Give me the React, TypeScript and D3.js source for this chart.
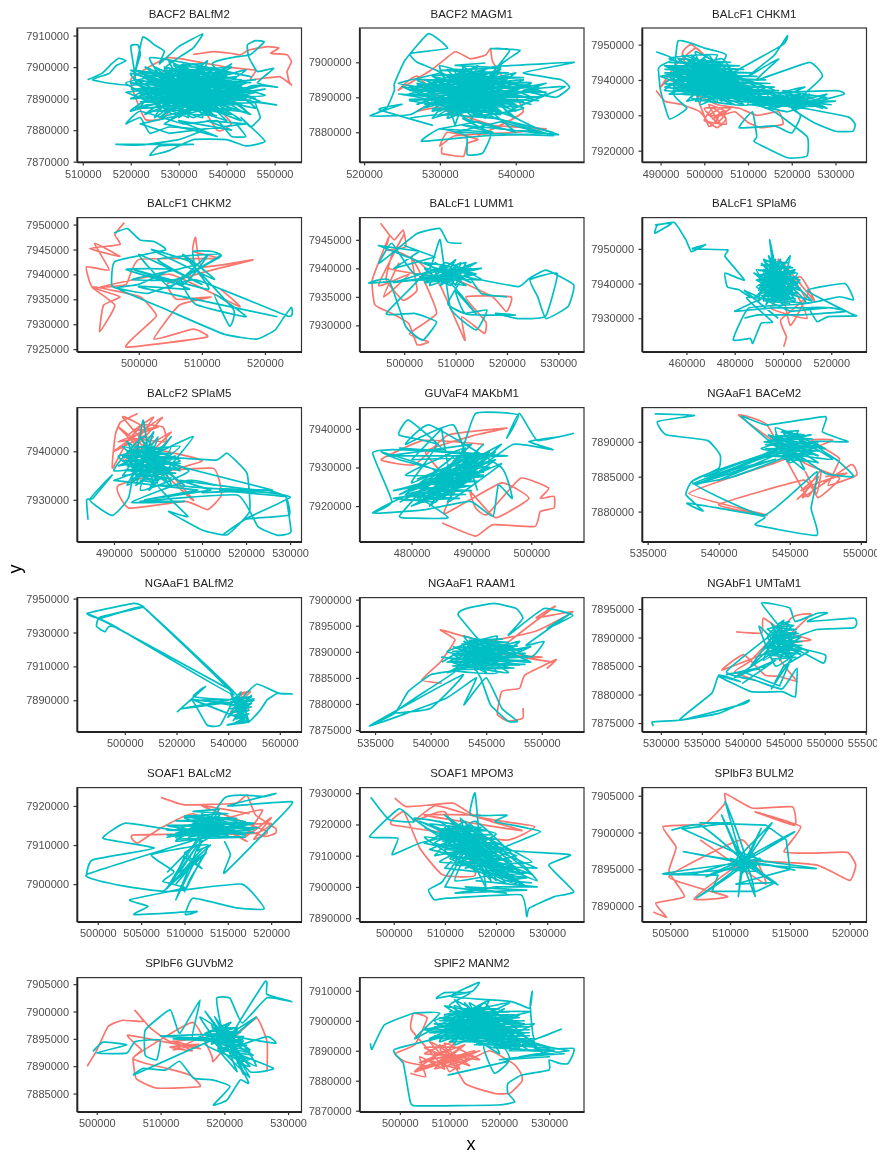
import React, { useEffect, useRef } from 'react';
import * as d3 from 'd3';

// tracks are flat x,y lists in km
const balfm2Red = [533,7904, 537.3,7904.9, 540.8,7904.4, 542.9,7903.9, 544.6,7905.4, 548.5,7906.5, 550.9,7906, 549.2,7904.4, 552.6,7903.9, 553.5,7901.7, 552.6,7898.6, 553,7895.4, 553.5,7894.3, 551,7897, 545,7896, 546,7899, 540,7900, 528,7903, 520,7896, 523,7883.5, 527,7884, 533,7895, 540,7884, 541,7882, 538,7880, 530,7899, 524,7897];
const balfm2Teal = [511,7896, 514,7898, 516,7901, 517.5,7902.8, 519,7902, 517,7900.5, 515.5,7898, 512,7896, 516,7894.8, 521,7894.5, 520,7906.5, 521.5,7907, 522,7904, 521,7899, 522.5,7909.5, 525,7907, 527,7905, 526,7901, 530,7906.5, 535,7910.5, 533,7906, 530,7903, 527,7899, 536,7888, 524,7893, 543,7896, 529,7885, 520,7898, 540,7889, 533,7901, 522,7887, 546,7892, 531,7895, 525,7884, 538,7899, 521,7891, 544,7886, 528,7902, 535,7884, 519,7895, 541,7900, 526,7889, 547,7889, 530,7897, 537,7885, 523,7900, 534,7892, 543,7883, 527,7892, 520,7886, 539,7895, 532,7887, 524,7903, 545,7897, 536,7899, 522,7894, 541,7885, 529,7889, 548,7891, 533,7896, 526,7886, 538,7892, 521,7899, 535,7890, 528,7883, 544,7899, 531,7893, 523,7885, 540,7897, 527,7895, 546,7887, 534,7899, 525,7891, 537,7894, 530,7886, 542,7892, 520,7890, 536,7896, 528,7899, 539,7886, 524,7896, 533,7884, 545,7894, 550.6,7893.6, 546.4,7895, 549.8,7899.6, 546.4,7898.6, 544.6,7903.3, 544.3,7907, 546,7908.4, 547.8,7908, 545,7904, 541,7903, 537,7901, 543,7890, 550.4,7888, 546,7889, 547,7884, 545,7881, 543,7884, 548,7876.5, 544,7875, 540,7877, 533,7877, 528,7873.5, 524,7872, 526,7875, 533,7875.5, 517,7875.5, 522,7875.3, 530,7877, 535,7880, 528,7881, 524,7879, 522,7884, 519,7882, 522,7886, 531,7882, 538,7883, 541,7878, 544,7878, 542,7882];
const balfm2Core = [520,7893, 541,7894, 526,7898, 537,7888, 522,7889, 544,7893, 529,7901, 534,7886, 521,7896, 546,7890, 531,7899, 527,7885, 540,7898, 523,7892, 543,7888, 525,7900, 538,7884, 520,7899, 535,7897, 530,7888, 548,7893, 524,7888, 536,7902, 532,7884, 519,7892, 542,7897, 528,7893, 545,7885, 533,7898, 522,7898, 539,7889, 526,7884, 541,7901, 530,7891, 521,7887, 544,7895, 534,7888, 527,7900, 537,7897, 524,7890, 547,7894, 529,7887, 536,7893, 520,7895, 540,7886, 531,7901, 525,7895, 543,7891, 533,7890, 528,7897, 538,7887, 522,7891, 535,7900, 530,7884, 542,7895, 526,7892, 546,7896, 532,7894, 523,7897, 539,7891, 529,7884, 537,7899, 527,7889, 544,7890, 534,7895, 521,7893, 541,7888, 530,7900, 536,7885, 525,7898, 533,7892, 540,7892, 528,7886, 535,7893, 531,7889, 538,7896, 526,7895, 543,7886, 532,7897, 529,7892, 537,7890, 534,7894, 530,7893, 536,7891, 527,7882, 533,7880, 538,7878, 530,7883, 541,7880, 536,7883, 544,7882, 528,7879, 522,7882, 534,7886, 540,7883, 533,7893];
const balfm2Dense = [524,7886, 541,7886.7, 527,7887.5, 543,7888.2, 523,7888.9, 545,7889.5, 525,7890.2, 544,7891, 522,7891.6, 546,7892.3, 524,7893, 543,7893.8, 521,7894.5, 545,7895.1, 526,7895.8, 542,7896.6, 523,7897.3, 540,7898, 527,7898.7, 538,7899.6, 529,7900.4, 535,7901.1, 530,7885.2, 538,7884.6];
const magm1Red = [530.3,7875.8, 530.3,7873.9, 533.1,7873.1, 533.6,7876.8, 535,7878, 531,7880, 530,7876, 532,7879, 540,7880, 544,7881, 537,7882, 530,7887, 527,7886, 529,7888, 532,7885, 527,7896, 524.5,7892, 529,7898, 532,7903, 534,7901, 536,7902, 536.7,7903.9, 537,7900, 541,7886, 535,7879];
const magm1Teal = [520.8,7884.7, 523,7887, 524,7892, 524,7893.9, 525.4,7900.6, 528.5,7908.2, 531,7904, 526.1,7902.5, 527,7900, 530,7897, 524.5,7894, 530,7892, 538,7888, 526,7891, 541,7895, 529,7886, 536,7898, 531,7887, 543,7893, 527,7895, 539,7885, 533,7899, 535,7886, 528,7889, 540,7892, 532,7896, 537,7884, 526,7893, 542,7890, 530,7899, 534,7885, 541,7887, 529,7894, 538,7897, 531,7890, 536,7886, 533,7892, 527,7888, 539,7896, 530,7885, 544,7891, 532,7898, 535,7889, 537,7893, 529,7891, 534,7897, 540,7886, 531,7895, 536,7890, 533,7887, 538,7899, 528,7893, 535,7894, 531,7884, 542,7894, 534,7888, 530,7895, 537,7891, 532,7889, 539,7893, 533,7895, 536,7888, 534,7892, 530,7889, 538,7894, 532,7891, 535,7896, 537,7887, 533,7893, 531,7892, 536,7895, 534,7890, 535,7892, 539.2,7903.4, 536.7,7903.9, 540.6,7903.4, 538,7899, 547.7,7900, 541,7897, 546,7895, 547.1,7892.8, 545.3,7890, 541,7892, 546.5,7893, 539,7886, 541,7883, 543,7881, 545.6,7879.3, 538,7881, 533,7884, 536.7,7879.6, 535.6,7874, 533.6,7873.6, 533.5,7879, 530,7881, 527.6,7877.4, 536,7879, 545,7879.8, 537,7884, 530,7885, 526,7884, 529,7882, 522,7886.5, 525,7888, 520.8,7884.7, 526,7885, 529,7889, 524.5,7891];
const magm1Core = [527,7892, 541,7890, 529,7896, 538,7885, 526,7889, 543,7892, 531,7898, 536,7884, 528,7891, 540,7897, 533,7886, 525,7893, 539,7889, 530,7894, 535,7899, 532,7885, 544,7894, 529,7888, 537,7896, 534,7883, 527,7894, 542,7888, 531,7893, 538,7898, 530,7886, 536,7893, 533,7897, 540,7884, 528,7895, 535,7887, 541,7893, 532,7892, 529,7884, 537,7889, 534,7898, 526,7892, 539,7891, 531,7886, 536,7897, 533,7890, 543,7889, 530,7897, 535,7885, 538,7892, 528,7887, 534,7895, 532,7882, 531,7889, 537,7895, 529,7893, 540,7888, 533,7889, 536,7892, 531,7896, 538,7886, 534,7893, 530,7890, 535,7897, 532,7887, 537,7892, 533,7894, 539,7887, 531,7891, 536,7894, 534,7887, 532,7893, 535,7890, 530,7892, 537,7894, 533,7891, 535,7888, 531,7894, 534,7896, 536,7889, 532,7895, 538,7890, 534,7891, 540,7880, 535,7883, 530,7881, 537,7880, 533,7882, 543,7880, 538,7883, 532,7880, 545,7879, 536,7885];
const magm1Dense = [531,7885.5, 538,7886, 529,7886.7, 540,7887.4, 528,7888, 541,7888.8, 526,7889.4, 543,7890.1, 525,7890.8, 544,7891.5, 526,7892.1, 543,7892.8, 527,7893.5, 542,7894.2, 528,7894.9, 541,7895.6, 529,7896.3, 539,7897, 530,7897.7, 538,7898.4, 532,7899.1, 536,7899.8];
const chkm1Red = [489,7937, 491,7934, 495,7933, 499,7931, 501,7928, 503,7926.5, 505,7929, 502,7932, 500,7928.5, 505,7927.5, 504,7932, 501,7930, 504,7930, 507,7931, 510,7928, 513,7926.5, 518,7927.5, 517,7931, 512,7930, 508,7932, 503,7933, 498,7936, 492,7940, 490,7938, 494,7945, 498,7949, 500,7947, 497,7950, 495,7947, 501,7927, 504,7931, 502,7929, 506,7932, 500,7932, 503,7928, 505,7931, 501,7933, 504,7927];
const chkm1Teal = [489,7948, 493,7946, 490,7944, 489.5,7943, 490,7937, 492,7929, 496,7932, 493,7936, 494,7951, 500,7949, 505,7947, 500,7937, 492,7944, 508,7934, 495,7947, 512,7938, 491,7939, 504,7946, 510,7933, 497,7935, 507,7942, 492,7941, 503,7934, 498,7948, 515,7935, 494,7938, 506,7936, 501,7947, 496,7940, 513,7933, 493,7943, 509,7940, 499,7933, 502,7944, 491,7937, 516,7937, 497,7945, 505,7939, 495,7936, 511,7936, 500,7943, 494,7941, 507,7933, 498,7938, 503,7947, 492,7946, 514,7938, 501,7935, 496,7943, 509,7937, 499,7941, 504,7936, 497,7938, 502,7941, 500,7939, 506,7944, 495,7942, 508,7938, 498,7943, 503,7938, 501,7942, 499,7937, 505,7941, 518,7950, 519,7952.5, 516,7947, 513,7944, 510,7941, 517,7946, 512,7940, 524,7945, 527,7941, 521,7934, 516,7932, 528,7936, 522,7932.5, 512,7936, 530,7937, 532,7936, 526,7934, 518,7933, 525,7931.5, 533,7929.5, 534.5,7927.5, 534,7925.5, 530,7925.5, 525,7928, 520,7932, 524,7934, 528,7932, 517,7936, 523,7938, 518,7935, 522,7930, 520,7925, 516,7927, 508,7926.5, 511,7931, 512,7924, 511.5,7922.5, 519,7918, 523.5,7918.5, 523.5,7924, 516,7931, 510,7934];
const chkm1Core = [492,7942, 505,7937, 494,7946, 508,7935, 491,7938, 503,7943, 496,7934, 511,7938, 493,7944, 506,7934, 498,7946, 513,7936, 495,7938, 504,7945, 490,7941, 509,7933, 500,7946, 497,7936, 507,7940, 493,7937, 503,7936, 499,7945, 515,7934, 494,7943, 505,7943, 492,7936, 510,7936, 497,7947, 502,7936, 495,7944, 512,7934, 498,7940, 506,7938, 491,7944, 504,7934, 501,7944, 496,7937, 508,7941, 494,7940, 500,7936, 503,7945, 498,7934, 505,7935, 493,7941, 510,7938, 496,7946, 502,7939, 499,7943, 507,7936, 495,7940, 501,7938, 497,7942, 504,7941, 500,7941, 516,7933, 522,7936, 512,7934, 526,7933, 518,7937, 528,7935, 514,7932, 524,7936, 520,7933, 530,7934, 517,7934, 525,7935, 513,7937, 527,7932, 519,7936, 523,7933, 515,7936, 521,7932, 510,7935, 529,7933, 516,7935, 522,7934, 511,7933, 519,7931, 525,7933, 514,7935];
const chkm1Dense = [494,7946, 506,7945, 492,7945, 508,7944, 491,7944, 509,7943, 491,7943, 511,7942, 491,7942, 512,7941, 491,7941, 514,7940, 492,7940, 515,7939, 492,7939, 516,7938, 493,7938, 517,7937, 495,7937, 516,7936, 498,7936, 518,7935, 502,7935, 520,7934, 506,7934, 523,7933, 510,7933, 525,7932.5];
const chkm2Red = [497.7,7950.4, 496.2,7948, 497,7946, 492.2,7945.2, 497,7943.6, 493,7946.2, 495.3,7940.9, 491.7,7941.5, 492.6,7937.5, 497,7935.5, 494.4,7933.8, 493.8,7928.5, 496.2,7933.8, 492.6,7937.5, 500.2,7935.5, 502.8,7931.8, 501.5,7930, 498,7925.4, 510.8,7927.4, 508.6,7929, 502.4,7927, 506.4,7933.8, 511.5,7935.5, 506,7935, 504.6,7938.2, 511.7,7940.9, 518.1,7942.9, 510,7941.5, 509,7947.4, 508.6,7944.6, 512.6,7943.2, 500,7943, 498,7938, 494,7937.5, 505,7940, 516,7933.5, 513,7937];
const chkm2Teal = [496.1,7948.3, 498.2,7949.2, 500.2,7946.9, 502.4,7946.6, 504.2,7944.9, 496.2,7942.6, 495.7,7937.9, 496.6,7937.2, 501.5,7936.2, 509,7938.9, 523.7,7931.6, 524.2,7933.4, 522.9,7931.2, 521.6,7928.8, 518.7,7927, 513.5,7928, 504.6,7932.8, 496.6,7937.2, 500,7938, 505,7941, 498,7941, 507,7938, 511,7944, 505,7937.5, 500,7944, 510,7938, 503,7943, 513,7944, 506,7939, 499,7939, 509,7942, 502,7945, 512,7939, 507,7944, 515,7933, 514.4,7929.6, 512,7936, 517,7931.5, 509,7934, 506.8,7938.9, 513,7943.6, 511.7,7944.6, 508.6,7944.6, 509,7941.2, 511,7937, 499.3,7940.9, 504,7939, 508,7937, 500,7937.5, 522,7931.5];
const lumm1Red = [495.4,7947.9, 497,7946, 498.1,7945, 499.8,7946.7, 500.3,7943.8, 496.5,7943.2, 497,7945.5, 493.8,7938, 494.3,7933.6, 497.6,7932.1, 500.9,7930.3, 502.5,7926.6, 504.7,7927.1, 501,7928.5, 506.3,7932.1, 504.1,7937.4, 501.4,7942, 502.5,7936.2, 499.8,7934.4, 496.5,7938, 498,7943, 503,7941, 507,7937, 511.8,7927.4, 511.2,7931.5, 515.6,7928.6, 515.9,7930.6, 512,7935, 520.8,7935, 519.9,7932.4, 517.2,7935, 510,7938, 497,7940, 500,7946, 495,7937, 501,7939, 496,7935, 499,7941];
const lumm1Teal = [511.2,7944.4, 508.5,7944.6, 506.9,7947, 502.5,7946.1, 497.6,7942.6, 495.1,7940.9, 497.6,7944.4, 502,7939, 510,7940, 504,7937.5, 514,7939, 506,7940, 512,7937, 503,7938.5, 515,7938, 508,7941, 505,7937, 513,7940, 507,7938, 511,7941, 509,7937, 504,7940, 512,7938.5, 522.1,7936.8, 524.3,7938.2, 527.6,7939.7, 533,7937.1, 531.9,7933.3, 527.6,7931.2, 526,7935, 524.5,7938, 529.8,7939.1, 527.5,7931.6, 522.1,7931.2, 517.8,7932.1, 521.6,7931.8, 512,7932, 510,7936, 514,7932, 508,7938, 493.2,7937.4, 497,7938, 500.3,7929.8, 503.6,7927.4, 506.3,7930.6, 502,7932.1, 496.5,7932.1, 505,7940, 507,7945, 509,7933, 514,7929.2, 516.1,7932.7, 511.8,7932.1, 508.5,7933.8, 512,7939, 515,7935.6, 520,7935];
const lumm1Core = [503,7939, 511,7938, 506,7941, 513,7937.5, 508,7939.5, 515,7940, 505,7938, 510,7941.5, 507,7937, 512,7940, 504,7941, 509,7938.5, 514,7941, 506,7938.5, 511,7939.5, 508,7937.5, 513,7939, 507,7940, 510,7937, 512,7941, 505,7939.5, 498,7937.5, 509,7939, 495,7944, 503,7943, 498,7940, 506,7942, 500,7944];
const splam6Red = [500.3,7921.8, 501.4,7924.7, 499,7929.5, 509,7936, 500,7945, 505,7938, 510,7930, 495,7933, 507,7942, 513,7935, 498,7947, 503,7928, 511,7938];
const splam6Teal = [447,7956.9, 454,7957.4, 447,7954.5, 448,7956.8, 455,7957.6, 459.8,7952.6, 462.1,7949.2, 467.9,7951.2, 462.5,7950, 477,7949.7, 476,7947.8, 484,7941, 476,7943, 477,7939, 481.8,7938.2, 488,7936, 503,7945, 490,7938, 497,7947, 492,7935, 505,7940, 489,7944, 500,7934, 494,7948, 502,7937, 491,7941, 506,7943, 496,7935, 493,7946, 504,7936, 490,7936, 499,7945, 507,7938, 492,7943, 498,7936, 503,7948, 495,7939, 501,7943, 489,7939, 505,7935, 497,7942, 494,7936, 500,7946, 492,7938, 502,7941, 496,7944, 499,7937, 494.5,7952.6, 497,7940, 501,7938, 493,7941, 498,7943, 495,7937, 500,7941, 509.5,7934.3, 486,7933, 479.4,7923.8, 486.4,7924.2, 487.5,7922.8, 491,7928.6, 495.6,7929, 485,7936, 509.5,7934.3, 523.4,7936.2, 529.2,7935.3, 525.7,7940, 510,7938, 528,7931.4, 530.4,7930.7, 518.8,7930.5, 514.2,7929, 511,7933, 520,7933, 526,7932, 508,7931, 490,7931, 484,7930];
const splam6Core = [491,7946, 503,7936, 489,7941, 505,7944, 493,7934, 499,7947, 490,7937, 506,7940, 494,7945, 502,7935, 488,7943, 504,7938, 496,7947, 500,7936, 492,7944, 507,7941, 495,7935, 498,7946, 491,7939, 503,7942, 497,7937, 494,7943, 501,7940, 493,7937, 505,7937, 496,7941, 499,7935, 492,7947, 502,7944, 490,7935, 498,7941, 495,7946, 500,7938, 494,7939, 497,7944, 503,7939, 496,7936, 499,7942, 493,7942, 501,7936, 497,7941, 495,7943, 500,7943, 512,7935, 498,7938, 480,7932, 496,7933, 518,7933, 503,7932, 484,7938, 498,7930];
const splam6Dense = [492,7946.5, 502,7946, 491,7945.3, 504,7944.6, 490,7943.8, 505,7943.2, 490,7942.5, 506,7941.8, 490,7941, 507,7940.3, 490,7939.5, 507,7938.8, 491,7938, 506,7937.3, 491,7936.5, 505,7935.7, 493,7935, 503,7934.3];
const splam5Red = [495.4,7947.8, 491.5,7946, 490.3,7943.4, 489.6,7936.5, 493,7942, 496.6,7945.4, 501.1,7945, 501.7,7942, 493,7943, 499,7947, 492,7938, 503,7944, 495,7936, 512.5,7936.5, 514.4,7931, 511.3,7928, 506.2,7929.7, 493.4,7928.3, 491,7933, 510,7938, 497,7941, 491,7945, 503,7934, 508,7930, 492,7947, 498,7944, 490,7940, 501,7947, 493,7939, 499,7943, 491,7942, 500,7945, 494,7944];
const splam5Teal = [484.1,7925.9, 483.8,7930, 485.2,7930.3, 489.6,7935.1, 484.5,7930, 489.6,7926.8, 493.4,7930.7, 496.6,7946.4, 498,7935, 491,7939, 505,7941, 493,7933, 500,7943, 496,7932, 507,7936, 492,7941, 503,7933, 497,7943, 490,7936, 505,7938, 495,7941, 500,7934, 494,7936, 503,7941, 498,7932, 508,7943, 496,7938, 499,7941, 493,7938, 501,7936, 497,7939, 513,7938.2, 515.7,7939.6, 520.2,7935.5, 520.8,7927.6, 515.7,7922.8, 510,7923.8, 502.4,7927.6, 506.8,7926.6, 500,7933, 513,7932.3, 524.6,7932, 529.1,7930.7, 514,7932, 525,7931.5, 530,7930.5, 520.2,7926.2, 515,7923, 520,7926, 529.8,7926.9, 529.1,7930.7, 530.2,7923.4, 527.2,7922.7, 522.7,7924.5, 518,7931, 496,7929.7, 506,7929.7, 494,7929.5, 507,7934, 513,7933];
const splam5Core = [494,7940, 503,7936, 492,7935, 499,7944, 495,7933, 504,7939, 491,7937, 501,7941, 497,7935, 493,7942, 506,7933, 498,7939, 494,7937, 502,7934, 496,7943, 500,7936, 492,7939, 505,7936, 497,7941, 499,7933, 495,7938, 502,7938, 494,7934, 498,7937, 503,7943, 496,7936, 490,7934, 509,7932, 497,7930, 512,7932, 505,7934, 522,7932, 510,7931.5, 526,7932, 500,7938, 495,7935];
const splam5Dense = [495,7941, 501,7940.5, 493,7940, 503,7939.5, 492,7939, 504,7938.5, 492,7938, 505,7937.5, 493,7937, 505,7936.5, 493,7936, 504,7935.5, 495,7935, 503,7934.5, 496,7934, 500,7933.5];
const makbm1Red = [485.1,7915.6, 490.7,7912.2, 493.6,7915.2, 500.6,7914.7, 501.5,7918.6, 503.8,7919.5, 503.8,7922.5, 501.5,7922, 502.9,7924.7, 498.2,7927.2, 492.6,7917.8, 490.7,7919.5, 489.8,7923.8, 494,7917, 499.6,7922, 495,7926, 485.5,7918, 487,7925, 482.3,7934.1, 490.7,7938.4, 495.9,7940.2, 486.1,7938.4, 480.5,7930.7, 474.9,7932, 482,7937, 492,7936];
const makbm1Teal = [473.5,7918.2, 476.7,7921.2, 473.5,7933.7, 476.7,7934.6, 485.1,7934.6, 479.5,7942.3, 477.9,7938.4, 484.2,7935.9, 480,7926, 490,7933, 478,7923, 488,7930, 482,7921, 494,7934, 484,7926, 492,7928, 479,7928, 489,7935, 483,7923, 495,7931, 486,7921, 491,7932, 481,7925, 487,7927, 477,7924, 490,7929, 484,7924, 493,7930, 486,7925, 488,7932, 490.7,7944, 497.8,7943.6, 495.9,7937.6, 498,7944, 501,7937, 507,7938.8, 504.8,7938, 499.6,7936.7, 503.6,7934.6, 497,7936, 489,7928, 478,7932, 475,7934, 484,7929, 478,7917.5, 480.5,7916.9, 486.1,7917, 480,7923, 473.5,7918.2, 482,7919, 489.8,7921.2, 493.6,7917.3, 494.5,7925.5, 496.8,7922, 495,7930, 483,7941, 479,7936, 487,7941, 491,7924];
const makbm1Core = [478,7921, 487,7929, 480,7924, 492,7931, 483,7920, 489,7932, 481,7927, 494,7932, 485,7922, 490,7927, 479,7923, 488,7934, 484,7923, 492,7936, 486,7927, 482,7922, 491,7929, 480,7920, 487,7924, 493,7934, 485,7928, 489,7925, 477,7922, 484,7921, 490,7931, 483,7926, 495,7936, 486,7923, 488,7928, 481,7922, 484,7925, 491,7934, 487,7926, 482,7924, 490,7936, 476,7933, 492,7933, 478,7935, 496,7933, 480,7932, 485,7940, 486,7931];
const makbm1Dense = [479,7921.5, 488,7922, 479,7922.5, 489,7923, 480,7923.5, 490,7924, 481,7924.6, 490,7925.2, 482,7925.8, 491,7926.4, 483,7927, 492,7927.6, 484,7928.2, 492,7928.8, 485,7929.4, 493,7930, 486,7930.6, 493,7931.2, 487,7931.8, 493,7932.6];
const bacem2Red = [545.5,7881.7, 546.5,7883.8, 546.1,7885.7, 546.9,7882.6, 547.2,7886, 545.9,7882, 549.3,7886.7, 549.7,7885.2, 547.7,7883.8, 548.5,7887.6, 546.5,7890.2, 548,7890.2, 544,7887, 537.9,7882.6, 543.4,7879.5, 540,7881, 546,7884.5, 547,7882, 548.5,7884.8, 546,7887, 541.4,7893.8, 543.4,7892.4, 546.2,7882.2, 547,7885, 545.8,7883, 546.8,7884, 549,7885.5, 547.5,7885];
const bacem2Teal = [535.5,7894, 538.3,7893.8, 535.7,7892.9, 536.3,7891, 539.2,7890.2, 540.1,7888.1, 540,7886.2, 538.1,7884.3, 537.7,7882.4, 538.9,7880.1, 537.8,7881.2, 543.2,7879.3, 542.6,7878.1, 546.9,7876.6, 546.5,7880.5, 546.9,7885.7, 543.2,7879.5, 538.1,7884.3, 543,7888, 538.4,7883.8, 544,7888.5, 538.2,7884, 541,7885, 545,7888.2, 543.5,7891, 547,7888, 544,7890, 546.5,7891, 543,7889, 548,7887.5, 544.5,7891.5, 546,7888, 543.8,7888, 547,7890, 545,7887, 544,7892, 547.5,7889, 545,7890, 546,7886, 541.6,7893.6, 543.4,7892.4, 547.5,7893.6, 547.3,7891.4, 549.1,7890, 546.5,7890, 548.5,7887.1, 549.5,7885, 547.5,7885.5, 545,7889];
const bacem2Core = [543.5,7889, 546.5,7888.5, 544,7891, 547,7887, 544.5,7888, 546,7890.5, 543.2,7890, 546.8,7889, 545,7891.5, 545.5,7887.5, 544,7889.5, 547,7889.5, 544.8,7887.2, 545.8,7889.3, 543.8,7890.8, 546.2,7887.2, 545,7888.8, 542,7887, 545.5,7890, 539,7885, 544,7887.5, 538.5,7884, 543,7887, 540,7884.5, 545,7889];
const bacem2Dense = [543.6,7888, 546.6,7888.2, 543.4,7888.5, 547,7888.7, 543.3,7889, 547,7889.2, 543.3,7889.6, 546.8,7889.8, 543.5,7890.2, 546.6,7890.4, 544,7890.8, 546,7891, 544.4,7891.4, 545.6,7891.6, 544.6,7887.5, 546.4,7887.2];
const balfm2bRed = [544.8,7894, 548.6,7895, 540.9,7883, 548,7884.3, 545,7893, 547,7894];
const balfm2bTeal = [507.2,7945.3, 503.4,7947.2, 485.5,7941.3, 490.4,7938.4, 503.4,7944.3, 507.2,7945, 490.4,7939, 489.1,7933.5, 492.4,7930.5, 496.2,7933.1, 540.9,7896.1, 495.6,7933.8, 485.7,7941, 496.2,7933.6, 542.2,7893.1, 507.2,7945, 544,7892, 526.6,7892.2, 531.2,7898.1, 520.4,7883.3, 526,7890, 531.8,7875.4, 537,7875.4, 543,7892, 546,7878, 541,7894, 548,7877, 545,7890, 540,7880, 549,7893, 542,7878, 547,7888, 543,7885, 545,7895, 541,7887, 550,7891, 544,7880, 546,7892, 551.2,7899.6, 559.6,7894.1, 564.8,7893.7, 559,7894, 555.1,7890.2, 552.5,7884.3, 548,7877.4, 539.6,7875.4, 545,7878, 544,7889, 522,7885, 540,7890, 530,7890, 547,7886, 545,7891];
const balfm2bDense = [541,7891, 549,7892, 541,7889, 550,7890, 541,7887, 549,7888, 541,7885, 549,7886, 542,7883, 548,7884, 542,7881, 548,7882, 543,7879, 547,7880, 543,7877, 547,7878, 526,7890.5, 541,7888];
const raam1Red = [548.3,7879.2, 548.3,7877.3, 547,7876.7, 546,7878, 546.4,7882.4, 548,7883, 548.5,7885.6, 551.3,7888.5, 550.5,7886.9, 551,7888, 548.6,7888.8, 550,7889, 546,7890, 551.2,7898.7, 549.5,7896.5, 552.8,7897.7, 549.5,7894, 545,7892, 540.9,7894.2, 542.2,7892.3, 540.9,7888.1, 539.2,7884.6, 541,7884];
const raam1Teal = [534.5,7875.8, 536.8,7878.3, 538,7882.4, 540,7885.6, 542.2,7886.2, 538.5,7881, 536.8,7878.3, 540,7879.2, 542.9,7885.6, 534.5,7875.8, 541.3,7881, 544.1,7885, 543,7879.8, 545,7885, 546.4,7879.2, 547.8,7876.7, 547,7876.7, 545.4,7879.8, 544.5,7885, 543,7891, 547,7886, 542,7888, 548,7892, 544,7886.5, 546,7893, 541.5,7890, 549,7888, 543,7893, 546,7886, 542,7886.5, 548,7890, 544,7892.5, 545,7887, 543,7889, 547,7891, 545,7889, 544,7890.5, 546,7888, 542.5,7897, 543.2,7898.3, 545.7,7899.3, 547.7,7898.3, 548.3,7896.4, 547,7893.2, 550.2,7898.3, 552.8,7897, 550.5,7894.5, 552.6,7897.4, 548.6,7891.3, 550.2,7892, 549,7889, 544.5,7892, 541,7888];
const raam1Core = [542,7891, 547,7887, 543,7887, 546,7892, 541.5,7888, 548,7889, 543.5,7892, 545,7886, 542,7889.5, 547.5,7891, 544,7887.5, 546.5,7889, 543,7890.5, 545.5,7892, 542.5,7887.5, 548,7887.5, 544.5,7889, 546,7890.5, 543.5,7888.5, 545,7891, 544,7890, 546,7887.5, 541,7889, 545,7888, 543,7892, 547,7888.5, 544.5,7891.5, 545.5,7889.5, 543.8,7889, 549,7891, 547,7889, 541.5,7886, 545,7890];
const raam1Dense = [542.5,7886.6, 547.5,7886.9, 542,7887.3, 548.5,7887.6, 541.8,7888, 548.7,7888.3, 541.8,7888.7, 548.7,7889, 542,7889.4, 548.5,7889.7, 542,7890.1, 548.2,7890.4, 542.3,7890.8, 547.8,7891.1, 542.8,7891.5, 547,7891.8, 543.5,7892.2, 546.5,7892.5];
const umtam1Red = [539.2,7891, 542.3,7890.8, 542.5,7893.4, 545,7891, 548.3,7889.6, 546,7889, 537.5,7884.3, 540.1,7887, 542.7,7883.4, 544.4,7883.2, 546.6,7882.3, 545.3,7884.6, 544,7888, 548.3,7894, 546,7893.5, 541,7886, 539,7884, 541.5,7882.5];
const umtam1Teal = [529.1,7874.5, 529,7875.2, 532.3,7875.5, 537.1,7876.7, 540.7,7879, 540.2,7878.4, 532.3,7875.5, 536.2,7880.2, 537.1,7883.4, 539.7,7882.3, 537.1,7883.2, 541,7880.5, 544.8,7880.5, 546.4,7879.6, 546.6,7884.6, 544.8,7881, 541.5,7882.5, 538,7884, 544,7891, 541,7885, 546,7892, 542,7887, 547,7888, 544,7885, 542,7892, 546,7886, 543,7890, 545,7893, 542.5,7886, 547,7890, 544,7887, 545,7891, 543.5,7888, 546,7889, 542.3,7896, 545.7,7895.2, 546.4,7892.8, 549.2,7894.3, 550.3,7894.3, 547.9,7892.8, 553.5,7893.4, 553.9,7892.5, 553.5,7891.7, 549,7891.4, 545,7889, 550,7887, 549.8,7885.5, 547,7887.6, 545,7888];
const umtam1Core = [544,7892, 546,7886.5, 543,7888.5, 546.5,7891, 544.5,7886, 545.5,7892.5, 543,7891.5, 547,7887, 544,7889.5, 546,7890.5, 544.8,7887.5, 543.5,7892.5, 545.5,7887, 544.5,7891, 545,7889.5, 546.2,7888, 543.8,7890, 545.3,7891.5, 544.3,7888, 539,7883, 544,7886, 540,7882, 543,7885, 538,7883.5, 542,7884.5, 540,7884, 544.5,7881.5, 545.8,7886, 543.5,7881, 545,7885, 548,7887.5, 546,7889];
const umtam1Dense = [543.5,7886.2, 546.5,7886.5, 543.3,7886.9, 547,7887.2, 543.1,7887.6, 547.2,7887.9, 543,7888.3, 547.2,7888.6, 543.2,7889, 547.2,7889.3, 543.4,7889.7, 547,7890, 543.6,7890.4, 546.8,7890.7, 543.8,7891.1, 546.5,7891.4, 544,7891.8, 546.2,7892.1, 544.4,7892.5, 545.8,7892.8];
const balcm2Red = [507.3,7922.2, 510,7920.3, 515.9,7920.7, 517.2,7922.8, 518.2,7917.7, 520.5,7914.3, 520.5,7913, 519.2,7912.2, 516,7915, 520,7915.5, 518,7913, 504.2,7912.6, 504.6,7910.5, 507,7914, 511,7918, 517.2,7910.9, 514,7916, 519,7919, 517,7912, 520,7917, 518,7911.5, 519.5,7913.5, 512,7920, 517.5,7918];
const balcm2Teal = [498.7,7902.4, 499.4,7906.2, 506.5,7909.2, 500.6,7911.7, 503.2,7915.6, 508.8,7913.9, 513,7917, 509,7912, 516,7916, 511,7913, 518,7914, 508,7915, 515,7912.5, 510,7917, 517,7916, 512,7912, 514,7917.5, 509,7911, 516,7913.5, 511,7915.5, 513.5,7913, 498.7,7902.4, 503.2,7899.4, 508.1,7898.1, 516.6,7900, 519.2,7893.7, 516,7893.9, 511,7896.4, 510.1,7892.2, 511.4,7893, 504.2,7892.2, 505.8,7894.3, 503.7,7896, 510,7899, 507.5,7900.7, 508.8,7903.2, 506.2,7907.5, 512.7,7910, 510.7,7901.5, 510,7898.1, 512,7907, 509.5,7903, 511.5,7910, 508,7899, 514.6,7922, 519.2,7922.4, 520.5,7923.2, 515,7920, 522.4,7921.1, 520.5,7916, 514.6,7902.8, 515.3,7907.5, 514.6,7911];
const balcm2Core = [510,7915, 516,7913, 511,7917, 517,7914.5, 509,7913, 515,7917, 512,7914, 518,7915.5, 510.5,7912, 514,7915.5, 508,7912, 516,7915, 512,7918, 513,7912, 511,7914.5, 517,7912.5, 513,7916, 510,7913.5, 515,7914, 512,7915.5, 514,7913.5, 510,7908, 512,7904, 510,7907, 508.5,7900, 512,7909, 509,7901, 511.5,7906, 507.5,7898, 511,7905, 509,7896, 512,7912, 508,7903];
const balcm2Dense = [509,7911.5, 517,7912, 508,7912.6, 518,7913.2, 508,7913.8, 518.5,7914.4, 508.5,7915, 518,7915.6, 509,7916.2, 516,7916.8, 510,7917.4, 515,7918, 511,7918.6, 514,7919.2, 512,7911, 511.5,7908.5, 513,7910, 510.5,7905, 512.5,7908, 509.5,7902, 511.5,7906.5, 509,7900];
const mpom3Red = [500.2,7928.4, 502.4,7925.7, 507.3,7926.3, 511.7,7926.8, 516.1,7922.5, 521.6,7920.9, 527.6,7919.3, 522,7915, 499.7,7919.9, 502,7924, 505.1,7912.4, 509.5,7903.9, 516,7904, 510,7924, 504,7921, 508,7926, 513,7924, 519,7921, 525,7918, 506,7923, 517,7923];
const mpom3Teal = [495.5,7928.7, 499.1,7921.5, 504,7920.9, 501,7925, 495.3,7916.1, 500.8,7915.6, 499.7,7910.3, 505,7914, 515,7918, 507,7920, 520,7908, 510,7923, 525,7904, 513,7912, 504,7922, 520,7917, 509,7908, 527,7908, 512,7920, 518,7904, 506,7916, 522,7912, 511,7915, 528,7902, 516,7921, 510,7911, 524,7901, 514,7917, 508,7914, 519,7911, 513,7922, 517,7908, 515.9,7930, 515,7923, 522.1,7923, 519.9,7920.9, 528.7,7917.7, 521,7912, 534.5,7910.3, 530.3,7907, 535.2,7898.5, 531.4,7896.9, 526.5,7893.2, 526,7890.5, 524.8,7897.5, 510.6,7896.4, 507.9,7895.9, 506.8,7899.1, 509.5,7901.7, 514,7912, 518,7900, 516,7915, 512,7902, 524,7906, 515,7913, 520,7902, 517,7914];
const mpom3Core = [506,7919, 519,7910, 509,7921, 522,7906, 507,7912, 517,7919, 510,7906, 526,7903, 513,7919, 508,7910, 521,7914, 512,7907, 528,7906, 511,7918, 519,7902, 514,7921, 506,7914, 523,7908, 516,7917, 510,7914, 525,7901, 513,7908, 518,7916, 509,7917, 520,7905, 512,7913, 527,7904, 515,7920, 511,7909, 522,7901, 517,7911, 508,7919, 524,7910, 514,7906, 519,7913, 505,7921, 512,7916, 526,7900, 516,7908, 510,7919, 521,7903, 514,7914, 518,7906, 513,7917, 523,7903, 515,7911, 511,7912, 520,7911, 514,7909, 516,7913, 512,7911, 518,7912, 515,7915, 510,7900, 522,7898, 514,7900, 526,7899, 512,7898, 520,7900, 528,7900, 516,7902];
const mpom3Dense = [510,7919.5, 517,7919, 509,7918.5, 518,7918, 509,7917.3, 519,7916.7, 509,7916, 520,7915.3, 509.5,7914.7, 520,7914, 510,7913.3, 521,7912.7, 510,7912, 521,7911.3, 511,7910.7, 521,7910, 512,7909.3, 522,7908.7, 514,7908, 522,7907.3, 516,7906.7, 524,7906, 518,7905.2, 526,7904.5, 520,7903.7, 526,7903, 522,7902, 527,7901.3];
const bulm2Red = [503.6,7889.2, 504.7,7888.5, 503.8,7890.4, 506.2,7891.3, 504.9,7894.7, 505.5,7898, 504.4,7900.8, 507.9,7901.2, 509.6,7904, 509.6,7905.3, 511.9,7903.3, 515.2,7903.5, 515.4,7901, 512.1,7902.8, 515.9,7900.8, 514.5,7897.4, 516.8,7897.2, 519.8,7897.3, 520.5,7895.6, 520,7893.5, 517.2,7895.6, 511.2,7896, 507,7891, 509.8,7891.3, 504.9,7894, 511,7899, 513,7893, 507.5,7899];
const bulm2Teal = [505.1,7900.3, 507.5,7901, 511,7896, 507.2,7891.1, 511.3,7896, 509.6,7904.2, 511,7896.2, 512.1,7891.3, 511.2,7895.8, 504.4,7894.4, 507,7894.4, 511.4,7896.3, 517.2,7895.1, 511,7896, 515.4,7900.1, 511.2,7896.2, 506.1,7897.4, 511.5,7895.7, 514,7892.9, 511,7896.1, 515.4,7894.9, 511.3,7896, 510.7,7891.3, 510.9,7895.9, 509.3,7902.4, 511.2,7896, 512.6,7900.6, 511.1,7896, 508,7894, 512,7897, 510,7895, 512.5,7894.8, 510.5,7897.5, 513,7896];
const bulm2Core = [510,7896.5, 512.2,7895.5, 510.5,7894.8, 511.8,7897.2, 510.2,7895.5, 512.5,7896.5, 511,7894.5, 510.8,7897.5, 512,7895, 510.3,7896, 513.5,7901.3, 511.5,7896.5, 506,7900.5, 510,7901.3, 507.5,7901.3, 513,7901, 514.7,7899, 515,7895, 510.5,7893, 513.8,7893.2, 512.2,7892, 508.5,7892, 509,7894.2, 505,7894.3, 511.5,7895.2];
const guvbm2Red = [498.5,7890, 499.9,7892.7, 501.8,7897.3, 504.1,7898.4, 507.3,7898.2, 506,7900.2, 508.4,7897, 511.5,7894.5, 516,7895.1, 512,7893, 516,7894, 511.5,7893.5, 515,7892.8, 512,7894.6, 516.2,7893.2, 504.9,7895.7, 507,7893, 505.7,7891.5, 506.2,7887.7, 509.4,7886, 516.2,7886.3, 514.6,7888.4, 511,7889.6, 505.7,7891.5, 515,7898, 518,7892, 518.3,7890.9, 521.4,7895.1, 525.1,7898.8, 526.7,7894.5, 526.7,7889];
const guvbm2Teal = [499.4,7892.7, 501,7894.4, 504.7,7893.9, 499.9,7892.4, 504.7,7892.4, 506,7894.5, 509.9,7894.8, 509.4,7891.2, 507.6,7892, 507.6,7896.6, 511.5,7900.3, 513,7896, 516.2,7902.1, 515,7895, 521,7898, 517,7894, 523,7891, 519,7897, 524,7888, 518,7895, 522,7897, 520,7893, 516.2,7899, 524,7893, 519,7894, 525,7890, 521,7896, 506,7888.5, 507.3,7889.6, 510.8,7889.3, 513,7890.9, 515.2,7887.8, 518.1,7887.5, 520.9,7886.3, 518.3,7882.9, 520.4,7883.8, 522.5,7887.5, 523.8,7887, 521,7895, 526.2,7905.2, 526.7,7905.2, 526.7,7903.1, 530.6,7901.8, 526.7,7902.5, 522.8,7897.9, 520.9,7902.4, 518.8,7902.4, 520,7896, 528,7894.2, 526.7,7895.4, 521,7893, 527.7,7889.6, 524,7889, 520,7895];
const guvbm2Core = [516,7895, 522,7896.5, 518,7894, 521,7898, 517,7896, 523,7894, 519,7896.5, 520.5,7893.5, 518,7897.5, 522,7892, 519.5,7895.5, 524,7890, 520,7896, 523,7888.5, 521,7894.5, 524.5,7892, 519,7893, 522,7889, 520,7895, 517,7900, 520,7895.5, 518.5,7899, 521,7895, 525,7899, 521,7896, 510,7895.5, 518,7895, 512,7895, 520,7894.5, 523,7895];
const guvbm2Dense = [518,7897, 522,7897, 517.5,7896.4, 522.5,7896.2, 517,7895.7, 523,7895.4, 517.5,7895, 523,7894.6, 518,7894.3, 523.5,7893.8, 519,7893.3, 524,7892.6, 521,7892, 524,7891.3, 522,7890.6, 524,7889.9];
const manm2Red = [502.1,7882.5, 505.2,7881.4, 504,7888, 509,7884, 502.3,7897, 502.8,7902.5, 505.5,7900.9, 503,7892, 499,7889, 501,7886.4, 506,7885, 512,7891, 505,7891, 514,7885, 508,7892, 510,7883, 515,7890, 503.5,7884, 512,7887, 507,7889, 516,7887, 509,7892.5, 513.1,7879.1, 519,7875.8, 522.1,7875.8, 524.5,7879.7, 524.5,7881.9, 523.1,7885.3, 518,7890, 511,7885, 506,7893, 510,7889, 504,7886, 513,7892, 507,7884, 515,7888, 505,7889, 511,7893, 508,7886, 514,7889, 506,7887, 512,7884, 509,7890, 503,7883, 516,7890, 510,7886];
const manm2Teal = [494.1,7892.5, 494.4,7890.5, 496.9,7898.6, 502.8,7902.5, 508,7902.5, 503,7894, 513,7903, 508,7893, 520,7901, 505,7897, 524,7895, 511,7905, 516,7892, 527,7899, 510,7896, 522,7906, 507,7900, 519,7891, 514,7906, 525,7892, 509,7898, 518,7904, 528,7890, 512,7894, 521,7898, 515,7900, 506,7894, 524,7902, 511,7892, 517,7906, 522,7893, 513,7898, 526,7903, 509,7902, 520,7889, 516,7897, 499,7890.5, 500.7,7885.8, 502.1,7873, 503.4,7871.6, 519.7,7871.9, 523.1,7873, 521.7,7875.8, 521.7,7879.1, 524.5,7881.9, 530,7883.6, 530,7886.9, 532.1,7885.8, 533.8,7885.8, 534.8,7890.8, 522,7890, 532.4,7897.2, 527,7894, 526.2,7905.3, 526.6,7909.8, 526.1,7904.2, 522.4,7906.4, 510.3,7908.1, 515.9,7912.8, 514.5,7909.8, 507.4,7907.5, 509,7909.4, 514.1,7909.2, 510,7905, 518,7898, 522,7887, 509.7,7881.9, 521.7,7886.4, 519,7882.5, 517,7892, 530,7891, 522,7895];
const manm2Core = [506,7897, 518,7901, 509,7894, 523,7900, 511,7903, 515,7894, 507,7899, 520,7895, 513,7906, 517,7896, 508,7901, 525,7896, 512,7897, 521,7904, 510,7893, 519,7899, 514,7902, 524,7891, 516,7905, 509,7896, 522,7897, 512,7900, 518,7893, 511,7907, 527,7893, 513,7895, 520,7903, 507,7896, 516,7899, 523,7894, 510,7900, 518,7907, 514,7893, 525,7899, 512,7903, 520,7892, 515,7898, 509,7905, 522,7901, 513,7899, 517,7902, 511,7895, 519,7896, 514,7900, 516,7894, 512,7898, 521,7900, 515,7903, 526,7890, 531,7890, 524,7888, 533,7889, 527,7891, 530,7888, 520,7887, 534,7890, 524,7893, 518,7895];
const manm2Dense = [512,7904, 520,7904, 510,7903, 522,7903, 509,7902, 523,7902, 508,7901, 524,7901, 508,7900, 525,7900, 507,7899, 525,7899, 507,7898, 526,7898, 506,7897, 526,7897, 506,7896, 526,7896, 507,7895, 526,7895, 508,7894, 527,7894, 510,7893, 527,7893, 515,7892, 528,7892, 519,7891, 528,7890];

// panel table: label, x/y limits and ticks in km, then the tracks
const panels = [
  { title: 'BACF2 BALfM2', xd: [508.8, 555.6], yd: [7869.9, 7912.4], xt: [510, 520, 530, 540, 550], yt: [7870, 7880, 7890, 7900, 7910], red: balfm2Red, teal: balfm2Teal, core: balfm2Core, dense: balfm2Dense },
  { title: 'BACF2 MAGM1', xd: [519.4, 549], yd: [7871.5, 7909.8], xt: [520, 530, 540], yt: [7880, 7890, 7900], red: magm1Red, teal: magm1Teal, core: magm1Core, dense: magm1Dense },
  { title: 'BALcF1 CHKM1', xd: [485.75, 537.1], yd: [7916.8, 7954.7], xt: [490, 500, 510, 520, 530], yt: [7920, 7930, 7940, 7950], red: chkm1Red, teal: chkm1Teal, core: chkm1Core, dense: chkm1Dense },
  { title: 'BALcF1 CHKM2', xd: [490.2, 525.8], yd: [7924.5, 7951.4], xt: [500, 510, 520], yt: [7925, 7930, 7935, 7940, 7945, 7950], red: chkm2Red, teal: chkm2Teal, core: [], dense: [] },
  { title: 'BALcF1 LUMM1', xd: [491.3, 535], yd: [7925.4, 7948.9], xt: [500, 510, 520, 530], yt: [7930, 7935, 7940, 7945], red: lumm1Red, teal: lumm1Teal, core: lumm1Core, dense: [] },
  { title: 'BALcF1 SPlaM6', xd: [441.6, 534.6], yd: [7920.4, 7959], xt: [460, 480, 500, 520], yt: [7930, 7940, 7950], red: splam6Red, teal: splam6Teal, core: splam6Core, dense: splam6Dense },
  { title: 'BALcF2 SPlaM5', xd: [481.6, 532.6], yd: [7921.4, 7949], xt: [490, 500, 510, 520, 530], yt: [7930, 7940], red: splam5Red, teal: splam5Teal, core: splam5Core, dense: splam5Dense },
  { title: 'GUVaF4 MAKbM1', xd: [471.3, 508.8], yd: [7910.8, 7945.5], xt: [480, 490, 500], yt: [7920, 7930, 7940], red: makbm1Red, teal: makbm1Teal, core: makbm1Core, dense: makbm1Dense },
  { title: 'NGAaF1 BACeM2', xd: [534.6, 550.4], yd: [7875.7, 7894.9], xt: [535, 540, 545, 550], yt: [7880, 7885, 7890], red: bacem2Red, teal: bacem2Teal, core: bacem2Core, dense: bacem2Dense },
  { title: 'NGAaF1 BALfM2', xd: [481.5, 568.4], yd: [7871.5, 7950.6], xt: [500, 520, 540, 560], yt: [7890, 7910, 7930, 7950], red: balfm2bRed, teal: balfm2bTeal, core: [], dense: balfm2bDense },
  { title: 'NGAaF1 RAAM1', xd: [533.6, 553.8], yd: [7874.7, 7900.4], xt: [535, 540, 545, 550], yt: [7875, 7880, 7885, 7890, 7895, 7900], red: raam1Red, teal: raam1Teal, core: raam1Core, dense: raam1Dense },
  { title: 'NGAbF1 UMTaM1', xd: [527.7, 555.1], yd: [7873.5, 7897], xt: [530, 535, 540, 545, 550, 555], yt: [7875, 7880, 7885, 7890, 7895], red: umtam1Red, teal: umtam1Teal, core: umtam1Core, dense: umtam1Dense },
  { title: 'SOAF1 BALcM2', xd: [497.6, 523.5], yd: [7890.4, 7924.7], xt: [500, 505, 510, 515, 520], yt: [7900, 7910, 7920], red: balcm2Red, teal: balcm2Teal, core: balcm2Core, dense: balcm2Dense },
  { title: 'SOAF1 MPOM3', xd: [493.3, 537.2], yd: [7888.9, 7931.8], xt: [500, 510, 520, 530], yt: [7890, 7900, 7910, 7920, 7930], red: mpom3Red, teal: mpom3Teal, core: mpom3Core, dense: mpom3Dense },
  { title: 'SPlbF3 BULM2', xd: [502.65, 521.4], yd: [7887.9, 7906.1], xt: [505, 510, 515, 520], yt: [7890, 7895, 7900, 7905], red: bulm2Red, teal: bulm2Teal, core: bulm2Core, dense: [] },
  { title: 'SPlbF6 GUVbM2', xd: [496.9, 532.1], yd: [7881.7, 7906.2], xt: [500, 510, 520, 530], yt: [7885, 7890, 7895, 7900, 7905], red: guvbm2Red, teal: guvbm2Teal, core: guvbm2Core, dense: guvbm2Dense },
  { title: 'SPlF2 MANM2', xd: [491.9, 537], yd: [7869.7, 7914.4], xt: [500, 510, 520, 530], yt: [7870, 7880, 7890, 7900, 7910], red: manm2Red, teal: manm2Teal, core: manm2Core, dense: manm2Dense },
];

const width = 877;
const height = 1153;
const panelW = 224.5;
const panelH = 134;
const colX = [77, 359.5, 642];
const rowY = [28, 217.6, 407.6, 597.6, 787.6, 977.6];

const toPairs = (a: number[]) => d3.range(a.length / 2).map(i => [a[2 * i], a[2 * i + 1]] as [number, number]);

const App: React.FC = () => {
  const svgRef = useRef<SVGSVGElement>(null);

  useEffect(() => {
    if (!svgRef.current) return;
    const svg = d3.select(svgRef.current);
    svg.selectAll('*').remove();
    const fmt = (d: d3.NumberValue) => String(Number(d) * 1000);

    panels.forEach((p, i) => {
      const px = colX[i % 3];
      const py = rowY[Math.floor(i / 3)];
      const g = svg.append('g').attr('transform', `translate(${px},${py})`);
      const x = d3.scaleLinear().domain(p.xd).range([0, panelW]);
      const y = d3.scaleLinear().domain(p.yd).range([panelH, 0]);
      const curved = d3.line().x(d => x(d[0])).y(d => y(d[1])).curve(d3.curveCardinal.tension(0.6));
      const straight = d3.line().x(d => x(d[0])).y(d => y(d[1]));

      const draw = (track: number[], col: string, gen: typeof straight) => {
        g.append('path')
          .attr('d', gen(toPairs(track)))
          .attr('fill', 'none')
          .attr('stroke', col)
          .attr('stroke-width', 1.7)
          .attr('stroke-linejoin', 'round');
      };
      draw(p.red, '#F8766D', curved);
      draw(p.teal, '#00BFC4', curved);
      draw(p.core, '#00BFC4', straight);
      draw(p.dense, '#00BFC4', straight);

      g.append('rect')
        .attr('width', panelW).attr('height', panelH)
        .attr('fill', 'none').attr('stroke', '#333').attr('stroke-width', 1.2);

      const ax = g.append('g').attr('transform', `translate(0,${panelH})`)
        .call(d3.axisBottom(x).tickValues(p.xt).tickFormat(fmt).tickSize(3.5).tickSizeOuter(0).tickPadding(4.5));
      const ay = g.append('g')
        .call(d3.axisLeft(y).tickValues(p.yt).tickFormat(fmt).tickSize(3.5).tickSizeOuter(0).tickPadding(4.5));
      [ax, ay].forEach(a => {
        a.selectAll('.domain').attr('stroke', '#222').attr('stroke-width', 1.6);
        a.selectAll('line').attr('stroke', '#333').attr('stroke-width', 1.2);
        a.selectAll('text')
          .attr('fill', '#4d4d4d')
          .attr('font-size', 11)
          .attr('font-family', '"Liberation Sans", Arial, sans-serif');
      });

      g.append('text')
        .attr('x', panelW / 2).attr('y', -10.5)
        .attr('text-anchor', 'middle')
        .attr('fill', '#222')
        .attr('font-size', 11.5)
        .attr('font-family', '"Liberation Sans", Arial, sans-serif')
        .text(p.title);
    });

    svg.append('text')
      .attr('x', 471).attr('y', 1150)
      .attr('text-anchor', 'middle')
      .attr('font-size', 18)
      .attr('font-family', '"Liberation Sans", Arial, sans-serif')
      .text('x');
    svg.append('text')
      .attr('transform', 'translate(21,569) rotate(-90)')
      .attr('text-anchor', 'middle')
      .attr('font-size', 18)
      .attr('font-family', '"Liberation Sans", Arial, sans-serif')
      .text('y');
  }, []);

  return <svg ref={svgRef} width={width} height={height} style={{ position: 'absolute', left: 0, top: 0, background: '#fff', filter: 'blur(0.35px)' }} />;
};

export default App;
